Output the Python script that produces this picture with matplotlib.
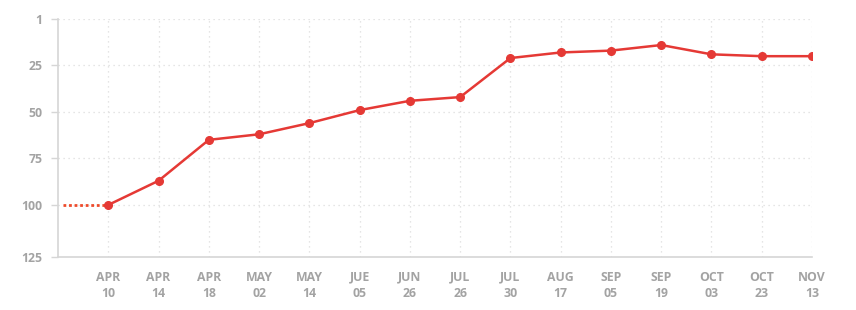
import matplotlib.pyplot as plt

dates = ["APR\n10", "APR\n14", "APR\n18", "MAY\n02", "MAY\n14", "JUE\n05", "JUN\n26",
         "JUL\n26", "JUL\n30", "AUG\n17", "SEP\n05", "SEP\n19", "OCT\n03", "OCT\n23", "NOV\n13"]
ranks = [100, 87, 65, 62, 56, 49, 44, 42, 21, 18, 17, 14, 19, 20, 20]
rank_ticks = [0, 25, 50, 75, 100, 128]
rank_labels = ["1", "25", "50", "75", "100", "125"]

red = "#e53935"
grey = "#a3a3a3"

fig = plt.figure(figsize=(8.56, 3.10), dpi=100)
ax = fig.add_axes([0.0678, 0.171, 0.8808, 0.7677])

x = list(range(len(ranks)))
# lead-in from before the first date
ax.plot([-0.9, 0], [ranks[0], ranks[0]], color="#ee4b2b", linestyle=(0, (1, 1)), linewidth=2)
ax.plot(x, ranks, color=red, linewidth=1.8, marker="o", markersize=5.5, zorder=3)

ax.set_xlim(-1, len(ranks) - 1)
ax.set_ylim(128, 0)
ax.set_xticks(x)
ax.set_xticklabels(dates, linespacing=1.3)
ax.set_yticks(rank_ticks)
ax.set_yticklabels(rank_labels)

ax.grid(True, color="#dddddd", linestyle=(0, (1, 3)), linewidth=0.9)
ax.set_axisbelow(True)
for side in ["top", "right"]:
    ax.spines[side].set_visible(False)
for side in ["left", "bottom"]:
    ax.spines[side].set_color("#d6d6d6")
    ax.spines[side].set_linewidth(1.2)

ax.tick_params(axis="x", length=0, pad=10, labelsize=8.8)
ax.tick_params(axis="y", length=5, width=1, color="#d6d6d6", pad=6, labelsize=8.8)
for lab in ax.get_xticklabels() + ax.get_yticklabels():
    lab.set_fontfamily("Open Sans")
    lab.set_fontweight("bold")
    lab.set_color(grey)

fig.savefig("out.png", dpi=100)
